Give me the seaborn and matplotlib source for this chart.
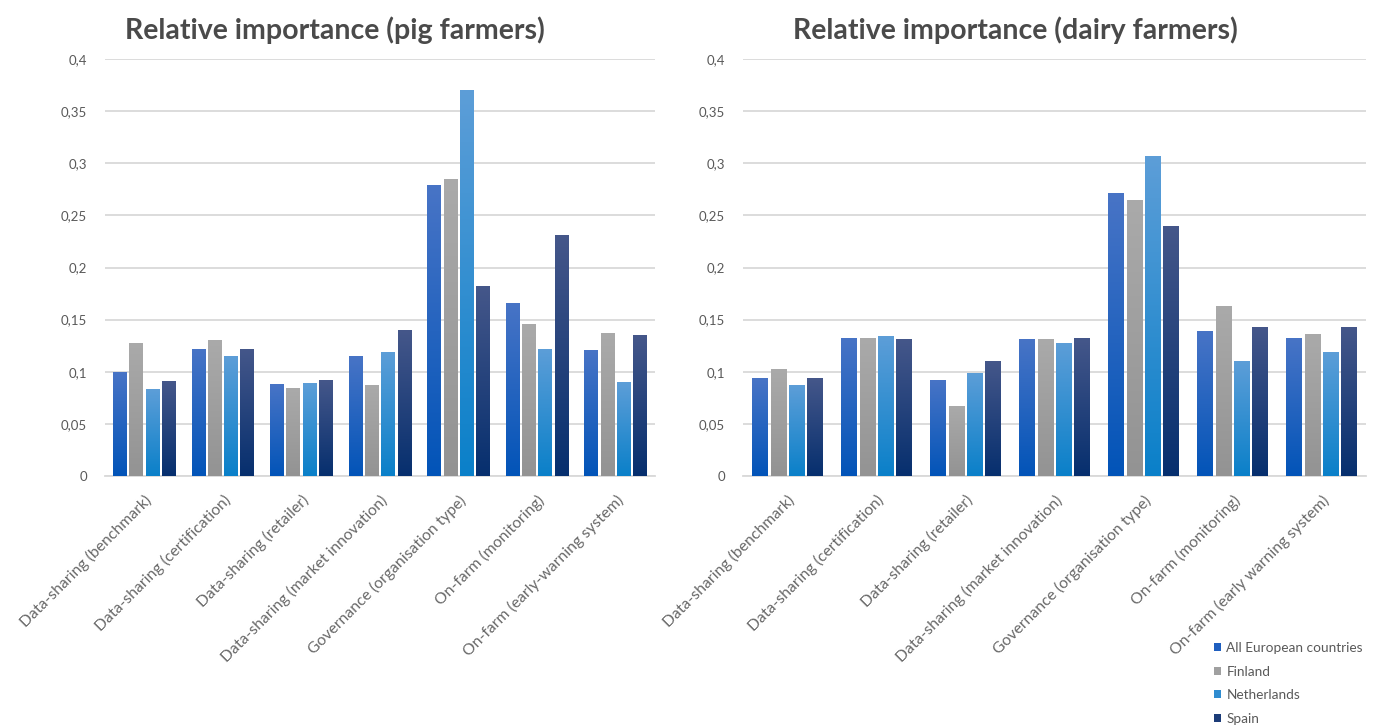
import numpy as np
import pandas as pd
import matplotlib
matplotlib.use("Agg")
import matplotlib.pyplot as plt
import seaborn as sns
from matplotlib.colors import LinearSegmentedColormap
from matplotlib.patches import Patch

# ---- data -------------------------------------------------------------
countries = ["All European countries", "Finland", "Netherlands", "Spain"]

pig_categories = [
    "Data-sharing (benchmark)",
    "Data-sharing (certification)",
    "Data-sharing (retailer)",
    "Data-sharing (market innovation)",
    "Governance (organisation type)",
    "On-farm (monitoring)",
    "On-farm (early-warning system)",
]
dairy_categories = [
    "Data-sharing (benchmark)",
    "Data-sharing (certification)",
    "Data-sharing (retailer)",
    "Data-sharing (market innovation)",
    "Governance (organisation type)",
    "On-farm (monitoring)",
    "On-farm (early warning system)",
]

pig_all = [0.100, 0.122, 0.088, 0.115, 0.279, 0.166, 0.121]
pig_finland = [0.128, 0.130, 0.084, 0.087, 0.285, 0.146, 0.137]
pig_netherlands = [0.083, 0.115, 0.089, 0.119, 0.370, 0.122, 0.090]
pig_spain = [0.091, 0.122, 0.092, 0.140, 0.182, 0.231, 0.135]

dairy_all = [0.094, 0.132, 0.092, 0.131, 0.271, 0.139, 0.132]
dairy_finland = [0.103, 0.132, 0.067, 0.131, 0.265, 0.163, 0.136]
dairy_netherlands = [0.087, 0.134, 0.099, 0.128, 0.307, 0.110, 0.119]
dairy_spain = [0.094, 0.131, 0.110, 0.132, 0.240, 0.143, 0.143]

y_ticks = [0, 0.05, 0.1, 0.15, 0.2, 0.25, 0.3, 0.35, 0.4]
y_tick_labels = ["0", "0,05", "0,1", "0,15", "0,2", "0,25", "0,3", "0,35", "0,4"]

titles = ["Relative importance (pig farmers)", "Relative importance (dairy farmers)"]

# (top, bottom) colours of each country's gradient fill
gradients = {
    "All European countries": ("#4874c6", "#0254b8"),
    "Finland": ("#aaaaaa", "#939393"),
    "Netherlands": ("#5d9ed8", "#0a80c9"),
    "Spain": ("#45578a", "#062f6e"),
}
solid = {"All European countries": "#1f5fbf", "Finland": "#a0a0a0",
         "Netherlands": "#2f8cd0", "Spain": "#1c3c78"}


def long_frame(categories, series):
    rows = []
    for country, values in zip(countries, series):
        for cat, v in zip(categories, values):
            rows.append({"category": cat, "country": country, "value": v})
    return pd.DataFrame(rows)


pig_df = long_frame(pig_categories, [pig_all, pig_finland, pig_netherlands, pig_spain])
dairy_df = long_frame(dairy_categories, [dairy_all, dairy_finland, dairy_netherlands, dairy_spain])

# ---- styling ----------------------------------------------------------
sns.set_theme(style="white")
plt.rcParams["font.family"] = ["Lato", "DejaVu Sans"]
text_grey = "#595959"
title_grey = "#4a4a4a"
grid_grey = "#d9d9d9"

fig = plt.figure(figsize=(13.76, 7.27), dpi=100)
W, H = 1376, 727
ax_left = fig.add_axes([105 / W, 1 - 476 / H, 550 / W, 417 / H])
ax_right = fig.add_axes([743 / W, 1 - 476 / H, 623 / W, 417 / H])


def draw_panel(ax, df, categories):
    sns.barplot(data=df, x="category", y="value", hue="country",
                order=categories, hue_order=countries, palette=solid,
                width=0.83, gap=0.16, dodge=True, legend=False, ax=ax,
                linewidth=0, zorder=3)
    # vertical gradient fills on every bar
    for country, container in zip(countries, ax.containers):
        top, bottom = gradients[country]
        cmap = LinearSegmentedColormap.from_list(country, [bottom, top])
        for bar in container:
            x0, w, h = bar.get_x(), bar.get_width(), bar.get_height()
            grad = np.linspace(0, 1, 256).reshape(-1, 1)
            im = ax.imshow(grad, cmap=cmap, extent=[x0, x0 + w, 0, h],
                           origin="lower", aspect="auto", zorder=4,
                           interpolation="bicubic")
            im.set_clip_path(bar)
    ax.set_xlim(-0.5, len(categories) - 0.5)
    ax.set_ylim(0, 0.4)
    ax.set_aspect("auto")

    ax.set_yticks(y_ticks)
    ax.set_yticklabels(y_tick_labels)
    ax.yaxis.grid(True, color=grid_grey, linewidth=1.3, zorder=0)
    ax.xaxis.grid(False)
    ax.set_axisbelow(True)
    for side in ["left", "right", "top"]:
        ax.spines[side].set_visible(False)
    ax.spines["bottom"].set_color(grid_grey)
    ax.spines["bottom"].set_linewidth(1.3)
    ax.tick_params(axis="y", length=0, pad=13, labelsize=9.5, labelcolor=text_grey)
    ax.tick_params(axis="x", length=0, pad=12, labelsize=11.3, labelcolor="#686868")
    ax.set_xticks(range(len(categories)))
    ax.set_xticklabels(categories, rotation=45, ha="right", va="top",
                       rotation_mode="anchor")
    ax.set_xlabel("")
    ax.set_ylabel("")


draw_panel(ax_left, pig_df, pig_categories)
draw_panel(ax_right, dairy_df, dairy_categories)

fig.text(335 / W, 1 - 30 / H, titles[0], ha="center", va="center",
         fontsize=20.5, fontweight="bold", color=title_grey)
fig.text(1015 / W, 1 - 30 / H, titles[1], ha="center", va="center",
         fontsize=20.5, fontweight="bold", color=title_grey)

handles = [Patch(facecolor=solid[c], edgecolor="none") for c in countries]
fig.legend(handles, countries, loc="upper left",
           bbox_to_anchor=(1214 / W, 1 - 642 / H), frameon=False,
           fontsize=9.8, labelcolor=text_grey, handlelength=0.55,
           handleheight=0.55, handletextpad=0.35, labelspacing=0.85,
           borderaxespad=0, borderpad=0)

fig.savefig("out.png", dpi=100, facecolor="white")
